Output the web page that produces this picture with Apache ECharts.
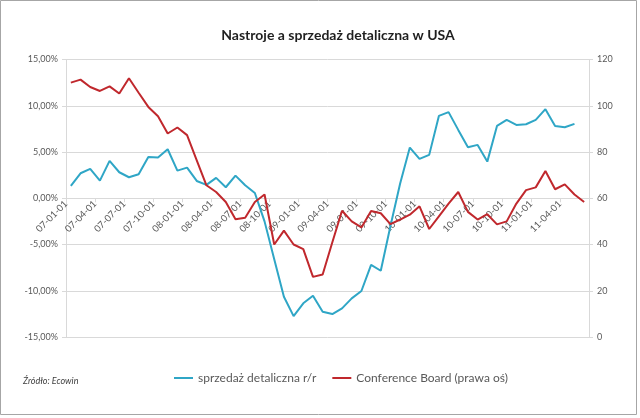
<!DOCTYPE html>
<html>
<head>
<meta charset="utf-8">
<script src="https://cdn.jsdelivr.net/npm/echarts@6/dist/echarts.min.js"></script>
<style>html,body{margin:0;padding:0;background:#fff}#c{width:640px;height:418px}</style>
</head>
<body>
<div id="c"></div>
<script>
// monthly categories 2007-01 .. 2011-06
const categories = ['07-01-01','07-02-01','07-03-01','07-04-01','07-05-01','07-06-01','07-07-01','07-08-01','07-09-01','07-10-01','07-11-01','07-12-01',
'08-01-01','08-02-01','08-03-01','08-04-01','08-05-01','08-06-01','08-07-01','08-08-01','08-09-01','08-10-01','08-11-01','08-12-01',
'09-01-01','09-02-01','09-03-01','09-04-01','09-05-01','09-06-01','09-07-01','09-08-01','09-09-01','09-10-01','09-11-01','09-12-01',
'10-01-01','10-02-01','10-03-01','10-04-01','10-05-01','10-06-01','10-07-01','10-08-01','10-09-01','10-10-01','10-11-01','10-12-01',
'11-01-01','11-02-01','11-03-01','11-04-01','11-05-01','11-06-01'];
// tick labels sit on month boundaries
const tickLabels = categories.concat(['11-07-01']);
const retailSales = [1.33,2.70,3.17,1.91,4.04,2.81,2.27,2.60,4.47,4.40,5.30,
2.99,3.31,1.87,1.44,2.20,1.19,2.45,1.40,0.57,
-2.5,-6.6,-10.65,-12.74,
-11.36,-10.54,-12.27,-12.52,-11.9,-10.82,-10.03,-7.2,-7.84,
-3.0,1.6,5.48,4.25,4.69,8.9,9.31,7.39,5.52,5.77,3.96,
7.82,8.47,7.93,8.0,8.47,9.63,7.82,7.68,8.04];
const confBoard = [110.0,111.3,108.1,106.4,108.4,105.3,111.9,105.6,99.5,95.5,88.0,
90.6,87.3,76.4,65.6,62.7,58.4,50.9,51.6,58.4,61.6,
40,46,40,38,26,27,41,54.6,50,47.4,54.5,53.5,
48.8,50.8,52.9,56.5,46.7,52.2,57.7,62.7,54.1,50.8,53.1,
48.7,50.0,57.7,63.5,64.7,71.8,63.9,66.0,61.6,58.4];
const seriesNames = ['sprzedaż detaliczna r/r','Conference Board (prawa oś)'];

const FONT = 'Lato';
const GRID = '#d9d9d9';
const TXT = '#595959';
const quarterly = (i) => i % 3 === 0 && i < tickLabels.length - 1;
const GRID_TOP = 59.5, GRID_H = 277.5;

const chart = echarts.init(document.getElementById('c'), null, {renderer:'canvas'});
chart.setOption({
  animation:false,
  backgroundColor:'#ffffff',
  textStyle:{fontFamily:FONT},
  title:{text:'Nastroje a sprzedaż detaliczna w USA', left:333, top:23, textAlign:'center',
    textStyle:{fontFamily:FONT, fontSize:14, fontWeight:'bold', color:'#1f1f1f'}},
  legend:{data:seriesNames, left:174, top:372, padding:0, itemWidth:19, itemHeight:2, itemGap:16, icon:'rect',
    textStyle:{fontFamily:FONT, fontSize:12, color:TXT}},
  grid:{left:66, right:51, top:GRID_TOP, bottom:418-GRID_TOP-GRID_H, containLabel:false},
  xAxis:[
    {type:'category', data:categories, boundaryGap:true, show:false},
    {type:'category', data:tickLabels, boundaryGap:false, position:'bottom', offset:-GRID_H/2,
      axisLine:{show:true, onZero:false, lineStyle:{color:GRID, width:1}},
      axisTick:{show:true, interval:quarterly, length:4, lineStyle:{color:GRID}},
      axisLabel:{interval:quarterly, rotate:45, fontSize:9.5, color:TXT, margin:4, fontFamily:FONT},
      splitLine:{show:false}}
  ],
  yAxis:[
    {type:'value', min:-15, max:15, interval:5, position:'left',
      axisLine:{show:true, lineStyle:{color:GRID}},
      axisTick:{show:true, length:4, lineStyle:{color:GRID}},
      axisLabel:{fontSize:9, color:TXT, margin:8, fontFamily:FONT,
        formatter:(v)=>v.toFixed(2).replace('.',',')+'%'},
      splitLine:{show:true, lineStyle:{color:GRID, width:1}}},
    {type:'value', min:0, max:120, interval:20, position:'right',
      axisLine:{show:true, lineStyle:{color:GRID}},
      axisTick:{show:true, length:4, lineStyle:{color:GRID}},
      axisLabel:{fontSize:9, color:TXT, margin:8, fontFamily:FONT},
      splitLine:{show:false}}
  ],
  series:[
    {name:seriesNames[0], type:'line', data:retailSales, xAxisIndex:0, yAxisIndex:0,
      showSymbol:false, lineStyle:{color:'#2fa6c6', width:2}, itemStyle:{color:'#2fa6c6'}},
    {name:seriesNames[1], type:'line', data:confBoard, xAxisIndex:0, yAxisIndex:1,
      showSymbol:false, lineStyle:{color:'#c0282d', width:2}, itemStyle:{color:'#c0282d'}}
  ],
  graphic:[
    {type:'rect', shape:{x:0.5, y:0.5, width:636, height:414}, silent:true, z:-1,
      style:{fill:null, stroke:'#a6a6a6', lineWidth:1}},
    {type:'text', left:23, top:377, silent:true,
      style:{text:'Źródło: Ecowin', fontFamily:FONT, fontSize:9, fontStyle:'italic', fill:'#404040'}}
  ]
});
</script>
</body>
</html>
